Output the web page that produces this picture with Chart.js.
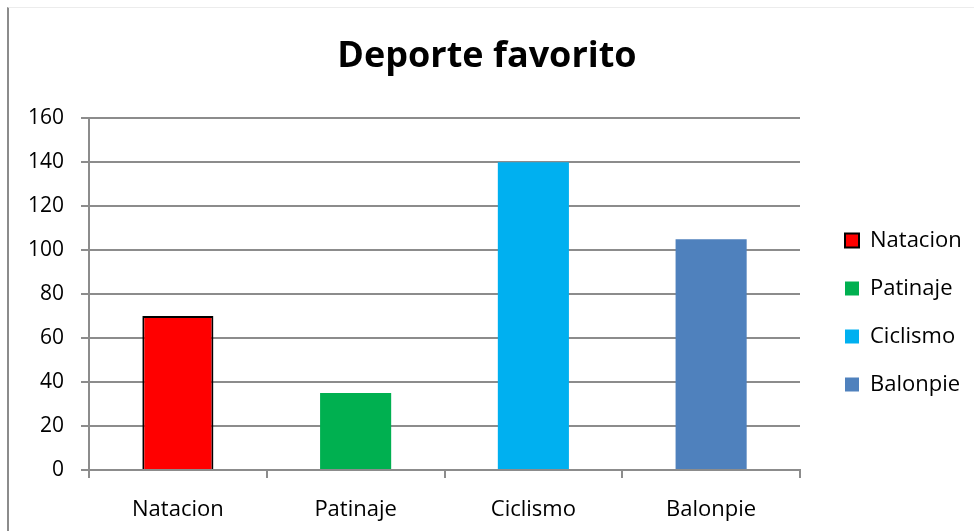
<!DOCTYPE html>
<html>
<head>
<meta charset="utf-8">
<script src="https://cdn.jsdelivr.net/npm/chart.js@4"></script>
<style>
  html, body { margin: 0; padding: 0; background: #fff; }
  #wrap { position: absolute; left: 0; top: 0; width: 974px; height: 531px; }
  #frame { position: absolute; left: 7px; top: 7px; width: 980px; height: 540px;
           border-left: 2px solid #8c8c8c; border-top: 1px solid #ececec; }
</style>
</head>
<body>
<div id="frame"></div>
<div id="wrap"><canvas id="deporteChart" width="974" height="531"></canvas></div>
<script>
//-- datos del grafico --
const categorias = ["Natacion", "Patinaje", "Ciclismo", "Balonpie"];
const valores = [70, 35, 140, 105];
const colores = ["#ff0000", "#00b050", "#00b0f0", "#4f81bd"];
const bordes = ["#000000", "#00b050", "#00b0f0", "#4f81bd"];
const ticksY = [0, 20, 40, 60, 80, 100, 120, 140, 160];

const fuente = "'Open Sans', sans-serif";

//-- ajusta el ancho y la posicion de la leyenda como en Excel --
const ajusteLeyenda = {
    id: "ajusteLeyenda",
    beforeLayout(chart) {
        const lg = chart.legend;
        if (lg && !lg._parcheado) {
            const fitOrig = lg.fit.bind(lg);
            lg.fit = function () { fitOrig(); this.width = 174; };
            lg._parcheado = true;
        }
    },
    afterLayout(chart) {
        const lg = chart.legend;
        if (!lg) return;
        lg.left += 19;
        lg.top += 34;
        lg.bottom += 34;
    }
};

const ctx = document.getElementById("deporteChart").getContext("2d");
new Chart(ctx, {
    type: "bar",
    data: {
        labels: categorias,
        datasets: [{
            data: valores,
            backgroundColor: colores,
            borderColor: bordes,
            borderWidth: [2, 0, 0, 0],
            categoryPercentage: 1,
            barPercentage: 0.4
        }]
    },
    plugins: [ajusteLeyenda],
    options: {
        responsive: false,
        animation: false,
        layout: { padding: { left: 0, right: 0, top: 26, bottom: 0 } },
        plugins: {
            title: {
                display: true,
                text: "Deporte favorito",
                color: "#000",
                font: { family: fuente, size: 36, weight: "bold" },
                padding: { top: 9, bottom: 40 }
            },
            legend: {
                display: true,
                position: "right",
                labels: {
                    color: "#000",
                    font: { family: fuente, size: 22 },
                    boxWidth: 14,
                    boxHeight: 14,
                    padding: 26,
                    generateLabels: () => categorias.map((c, i) => ({
                        text: c,
                        fillStyle: colores[i],
                        strokeStyle: bordes[i],
                        lineWidth: i === 0 ? 2 : 0,
                        index: i
                    }))
                }
            },
            tooltip: { enabled: false }
        },
        scales: {
            x: {
                offset: true,
                afterFit: (s) => { s.height = 61; },
                grid: { offset: true, display: true, drawOnChartArea: false, color: "#8c8c8c", tickLength: 8, lineWidth: 2 },
                border: { color: "#8c8c8c", width: 2 },
                ticks: { color: "#000", font: { family: fuente, size: 22 }, padding: 19 }
            },
            y: {
                min: 0,
                max: 160,
                afterBuildTicks: (s) => { s.ticks = ticksY.map(v => ({ value: v })); },
                afterFit: (s) => { s.width = 89; },
                grid: { color: "#8c8c8c", lineWidth: 2, tickLength: 8 },
                border: { color: "#8c8c8c", width: 2 },
                ticks: { color: "#000", font: { family: fuente, size: 21 }, padding: 17 }
            }
        }
    }
});
</script>
</body>
</html>
